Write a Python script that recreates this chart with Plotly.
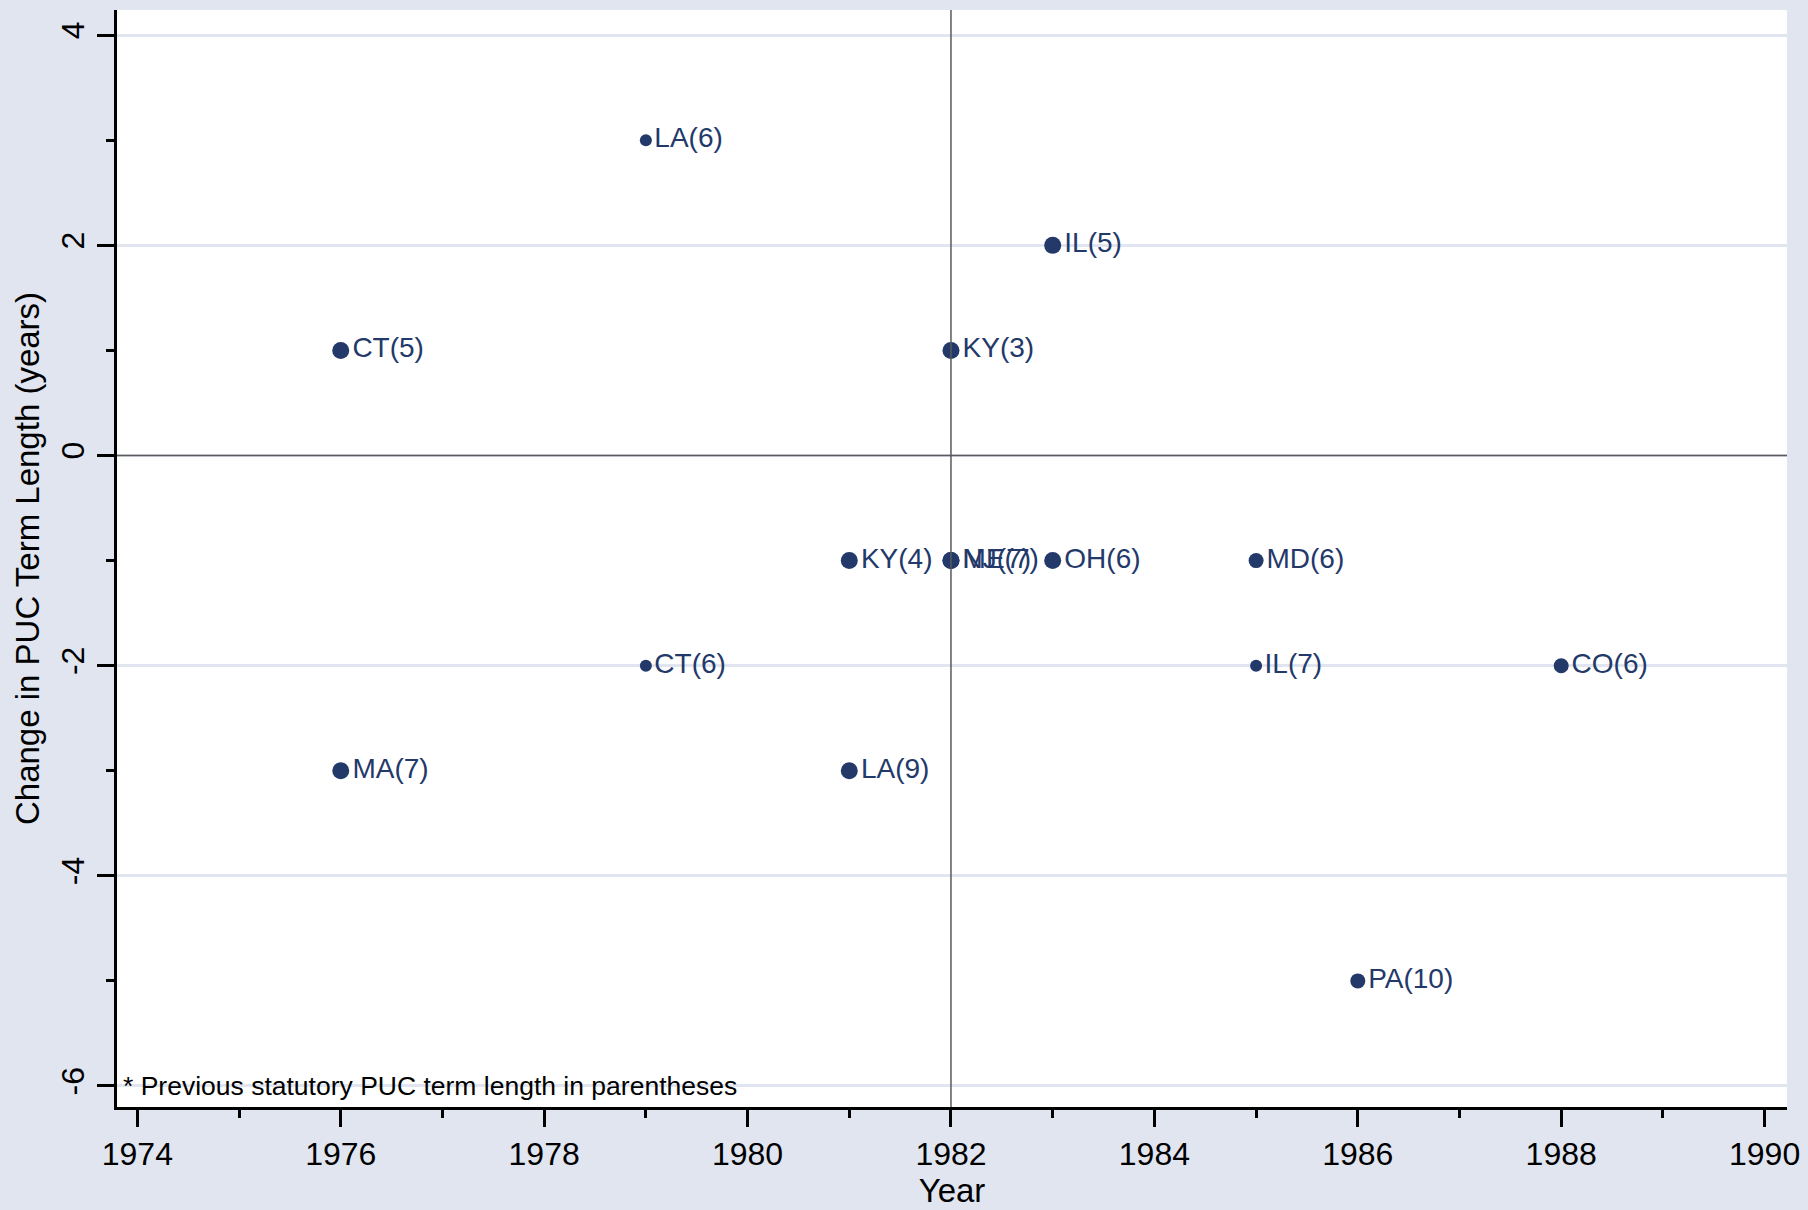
import plotly.graph_objects as go

# ---- data ----
years = [1976, 1979, 1983, 1982, 1981, 1982, 1982, 1983, 1985, 1979, 1985, 1988, 1976, 1981, 1986]
changes = [1, 3, 2, 1, -1, -1, -1, -1, -1, -2, -2, -2, -3, -3, -5]
states = ["CT", "LA", "IL", "KY", "KY", "ME", "NJ", "OH", "MD", "CT", "IL", "CO", "MA", "LA", "PA"]
prev_terms = [5, 6, 5, 3, 4, 7, 7, 6, 6, 6, 7, 6, 7, 9, 10]
x_ticks = [1974, 1976, 1978, 1980, 1982, 1984, 1986, 1988, 1990]
y_ticks = [4, 2, 0, -2, -4, -6]
ref_year = 1982
ref_change = 0
note = "* Previous statutory PUC term length in parentheses"

# ---- style ----
BG = "#E0E5F0"
NAVY = "#23396A"
small_markers = {"LA(6)", "CT(6)", "IL(7)"}
mid_markers = {"MD(6)", "CO(6)", "PA(10)"}
labels = [f"{s}({p})" for s, p in zip(states, prev_terms)]
sizes = [12 if l in small_markers else (15 if l in mid_markers else 17) for l in labels]

FONT = "Liberation Sans, Arial"
TICKFONT = dict(family=FONT, size=32, color="black")

fig = go.Figure()
fig.add_trace(go.Scatter(
    x=years, y=changes, mode="markers+text",
    text=labels, textposition="middle right",
    textfont=dict(family=FONT, size=28, color=NAVY),
    marker=dict(color=NAVY, size=sizes, opacity=1, line=dict(width=0)),
    cliponaxis=False, showlegend=False, hoverinfo="skip",
))

fig.add_shape(type="line", xref="x", yref="paper", x0=ref_year, x1=ref_year, y0=0, y1=1,
              line=dict(color="#5a5a5a", width=1.5), layer="above")
fig.add_shape(type="line", xref="paper", yref="y", x0=0, x1=1, y0=ref_change, y1=ref_change,
              line=dict(color="#5a5a5a", width=1.5), layer="above")

fig.add_annotation(x=0, xref="paper", y=-6, yref="y", text=note, showarrow=False,
                   xanchor="left", yanchor="middle", xshift=4,
                   font=dict(family=FONT, size=26.5, color="black"))

fig.update_layout(
    width=1808, height=1210, autosize=False,
    paper_bgcolor=BG, plot_bgcolor="white",
    margin=dict(l=117, r=21, t=10, b=103),
    font=TICKFONT,
)
fig.update_xaxes(
    range=[1973.8, 1990.22], tickvals=x_ticks, ticktext=[str(v) for v in x_ticks],
    ticks="outside", ticklen=17, tickwidth=3, tickcolor="black",
    showline=True, linecolor="black", linewidth=3, showgrid=False, zeroline=False, automargin=False,
    tickfont=TICKFONT, minor=dict(dtick=1, tick0=1974, ticks="outside", ticklen=8, tickwidth=3, tickcolor="black", showgrid=False),
    title=dict(text="Year", font=dict(family=FONT, size=33, color="black"), standoff=2),
)
fig.update_yaxes(
    range=[-6.2, 4.24], tickvals=y_ticks, ticktext=[str(v) for v in y_ticks],
    ticks="outside", ticklen=17, tickwidth=3, tickcolor="black",
    tickangle=-90, showline=True, linecolor="black", linewidth=3, automargin=False,
    showgrid=True, gridcolor=BG, gridwidth=3, zeroline=False,
    tickfont=TICKFONT, minor=dict(dtick=1, tick0=0, ticks="outside", ticklen=8, tickwidth=3, tickcolor="black", showgrid=False),
    title=dict(text="Change in PUC Term Length (years)", font=dict(family=FONT, size=33, color="black"), standoff=6),
)

fig.write_html("out.html", config={"displayModeBar": False},
               post_script="document.body.style.margin='0';")
